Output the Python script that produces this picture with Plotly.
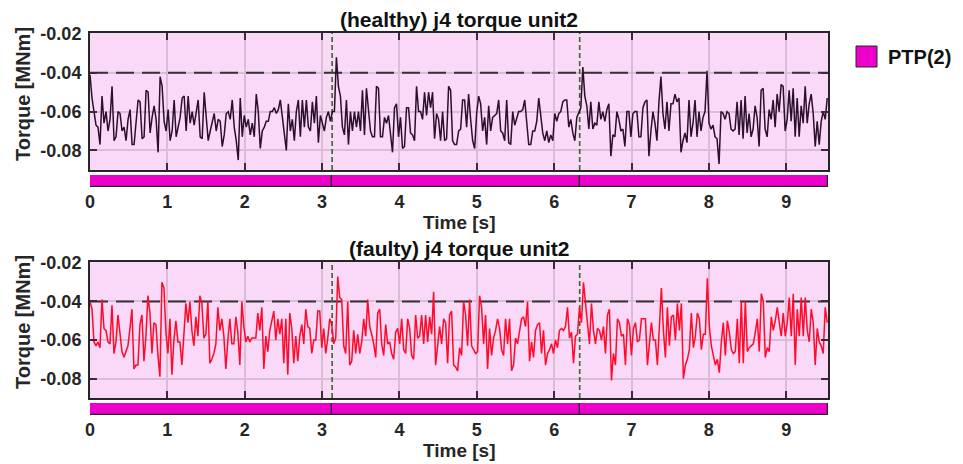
import numpy as np
import plotly.graph_objects as go

# ---------------- data (torque in 1e-3 MNm) ----------------
healthy_milli = [
    # 0 .. ~3.17 s
    -41,-53,-60,-67,-68,-77,-52,-66,-60,-70,-64,-47,-75,-73,-60,-61,-70,-68,-75,-64,
    -59,-77,-77,-67,-54,-55,-74,-73,-49,-50,-71,-63,-57,-64,-81,-42,-47,-65,-70,-59,
    -75,-70,-54,-73,-67,-63,-53,-52,-70,-52,-66,-60,-67,-61,-54,-73,-74,-50,-65,-75,
    -70,-66,-61,-70,-64,-65,-78,-72,-61,-60,-64,-54,-68,-75,-85,-53,-73,-62,-68,-64,
    -72,-66,-73,-51,-60,-79,-70,-68,-65,-65,-60,-60,-58,-61,-59,-54,-62,-70,-80,-56,
    -70,-64,-75,-60,-54,-73,-54,-68,-54,-68,-70,-55,-66,-52,-76,-62,-66,-70,-63,-60,
    -65,-60,-60,
    # ~3.2 .. ~6.35 s
    -32,-47,-52,-68,-72,-54,-77,-60,-70,-60,-68,-60,-70,-49,-72,-48,-61,-70,-73,-73,
    -47,-48,-73,-73,-63,-66,-62,-73,-81,-58,-56,-73,-63,-79,-78,-58,-58,-71,-72,-75,
    -47,-60,-60,-64,-50,-62,-50,-58,-50,-74,-61,-64,-75,-60,-75,-74,-47,-49,-75,-77,
    -77,-70,-69,-54,-54,-68,-51,-64,-75,-79,-61,-52,-56,-70,-63,-77,-57,-70,-63,-62,
    -61,-54,-70,-71,-75,-54,-76,-77,-60,-67,-63,-60,-60,-59,-54,-66,-77,-77,-70,-70,
    -65,-53,-61,-71,-75,-70,-76,-72,-75,-61,-65,-61,-60,-55,-54,-54,-68,-64,-71,-75,
    -63,-60,-58,
    # ~6.38 .. end
    -37,-52,-57,-69,-55,-69,-66,-67,-55,-64,-60,-65,-59,-56,-83,-72,-73,-60,-64,-70,
    -69,-78,-60,-60,-73,-61,-60,-60,-73,-73,-58,-55,-54,-83,-70,-60,-66,-75,-55,-42,
    -61,-69,-55,-70,-56,-56,-51,-55,-53,-81,-75,-71,-76,-54,-73,-66,-54,-73,-60,-70,
    -63,-60,-39,-66,-69,-67,-73,-74,-87,-60,-61,-64,-60,-61,-69,-70,-69,-55,-72,-54,
    -74,-52,-71,-61,-73,-69,-57,-63,-78,-49,-48,-69,-73,-59,-64,-54,-68,-51,-60,-46,
    -47,-70,-64,-49,-65,-48,-73,-53,-73,-57,-66,-47,-66,-56,-51,-61,-78,-65,-77,-65,
    -60,-64,-53,
]

faulty_milli = [
    -40,-44,-61,-63,-61,-64,-39,-54,-55,-61,-62,-42,-67,-61,-47,-55,-66,-69,-66,-63,
    -54,-44,-75,-73,-73,-52,-47,-71,-58,-37,-46,-67,-51,-52,-68,-79,-30,-33,-56,-67,
    -49,-78,-60,-50,-61,-61,-73,-56,-41,-51,-40,-55,-63,-48,-58,-37,-41,-59,-57,-40,
    -72,-70,-67,-62,-43,-55,-49,-58,-75,-60,-49,-62,-62,-48,-56,-73,-40,-53,-61,-58,
    -61,-59,-59,-59,-46,-55,-43,-75,-58,-66,-55,-49,-45,-60,-49,-57,-49,-72,-49,-78,
    -46,-54,-72,-58,-71,-58,-52,-62,-44,-53,-54,-67,-60,-60,-45,-45,-64,-54,-67,-59,
    -49,-52,-62,-59,
    -27,-38,-39,-63,-67,-40,-73,-71,-55,-67,-57,-67,-61,-49,-58,-39,-53,-57,-62,-69,
    -46,-44,-62,-68,-52,-62,-61,-67,-70,-56,-54,-62,-49,-65,-67,-49,-54,-68,-70,-47,
    -59,-58,-47,-62,-47,-61,-48,-57,-35,-73,-61,-53,-62,-49,-51,-72,-47,-45,-73,-74,
    -76,-64,-68,-40,-47,-63,-39,-63,-65,-67,-66,-37,-43,-62,-47,-75,-54,-68,-59,-55,
    -49,-54,-65,-68,-49,-62,-49,-76,-73,-59,-62,-54,-49,-48,-53,-40,-71,-61,-69,-55,
    -52,-51,-67,-55,-73,-67,-65,-62,-67,-60,-64,-55,-54,-55,-53,-43,-59,-56,-72,-58,
    -57,-43,-51,
    -30,-41,-48,-62,-41,-55,-62,-54,-55,-60,-53,-67,-47,-44,-81,-67,-73,-49,-51,-58,
    -57,-73,-49,-52,-68,-54,-51,-61,-60,-49,-49,-49,-73,-60,-51,-60,-60,-73,-51,-33,
    -55,-69,-43,-63,-48,-47,-60,-41,-55,-41,-80,-73,-70,-65,-46,-64,-58,-46,-49,-65,
    -57,-57,-28,-53,-63,-69,-73,-70,-77,-61,-51,-68,-50,-56,-65,-67,-66,-49,-72,-40,
    -72,-40,-66,-64,-63,-62,-56,-49,-66,-36,-40,-69,-64,-66,-48,-55,-50,-43,-51,-58,
    -46,-58,-51,-38,-58,-36,-73,-44,-58,-38,-58,-38,-55,-61,-44,-51,-73,-54,-61,-63,
    -67,-43,-51,
]

T_END = 9.53           # last sample time [s]
X_MAX = 9.54           # axis limit [s]
THRESHOLD = -0.04      # dashed limit line [MNm]
BOUNDARIES = [3.13, 6.33]                 # segment changes [s]
SEG_START = [0.0, 3.13, 6.33]
SEG_END = [3.13, 6.33, 9.54]
SEG_NAME = "PTP(2)"
X_TICKS = list(range(10))
Y_TICKS = [-0.08, -0.06, -0.04, -0.02]
Y_TICKTEXT = ["-0.08", "-0.06", "-0.04", "-0.02"]
TITLES = ["(healthy) j4 torque unit2", "(faulty) j4 torque unit2"]

healthy = np.array(healthy_milli) / 1000.0
faulty = np.array(faulty_milli) / 1000.0
t_h = np.linspace(0, T_END, len(healthy))
t_f = np.linspace(0, T_END, len(faulty))

# ---------------- styling ----------------
# the page body has an 8px margin, so the figure is 8px smaller and offset
OFF = 8
W, H = 963 - OFF, 464 - OFF
BG = "#FAD8F7"
GRID = "#D9BCD6"
FRAME = "#262626"
MAGENTA = "#EE00CC"
TXT = "#262626"
FONT = "Liberation Sans, Arial, Helvetica, sans-serif"

def px_x(p):
    return (p - OFF) / W

def px_y(p):
    return 1 - (p - OFF) / H

X_DOM = [px_x(90), px_x(828)]
panels = [
    dict(main=(33, 170), bar=(175, 187), title_y=19, ylab_y=94, xlab_y=222,
         series=(t_h, healthy), color="#2B0F2B", title=TITLES[0]),
    dict(main=(262, 398), bar=(403, 415), title_y=248, ylab_y=322, xlab_y=450,
         series=(t_f, faulty), color="#FF0A2A", title=TITLES[1]),
]

fig = go.Figure()
annotations = []
shapes = []
layout_axes = {}

for i, p in enumerate(panels):
    n_main = 2 * i + 1
    n_bar = 2 * i + 2
    xm = "x" if n_main == 1 else f"x{n_main}"
    ym = "y" if n_main == 1 else f"y{n_main}"
    xb = f"x{n_bar}"
    yb = f"y{n_bar}"

    t, v = p["series"]
    # threshold line
    fig.add_trace(go.Scatter(x=[0, X_MAX], y=[THRESHOLD, THRESHOLD], mode="lines",
                             line=dict(color="#333333", width=2, dash="18px,8px"),
                             xaxis=xm, yaxis=ym, showlegend=False, hoverinfo="skip"))
    # boundaries
    for b in BOUNDARIES:
        fig.add_trace(go.Scatter(x=[b, b], y=[-0.0901, -0.0195], mode="lines",
                                 line=dict(color="#2E6B22", width=1.6, dash="5px,3px"),
                                 xaxis=xm, yaxis=ym, showlegend=False, hoverinfo="skip"))
    # signal
    fig.add_trace(go.Scatter(x=t, y=v, mode="lines",
                             line=dict(color=p["color"], width=1.5),
                             xaxis=xm, yaxis=ym, showlegend=False))
    # segment bar
    fig.add_trace(go.Bar(y=[0] * len(SEG_START), x=[e - s for s, e in zip(SEG_START, SEG_END)],
                         base=SEG_START, orientation="h", width=1,
                         marker=dict(color=MAGENTA, line=dict(color=FRAME, width=1.2)),
                         xaxis=xb, yaxis=yb, showlegend=False, name=SEG_NAME))

    y0, y1 = p["main"]
    b0, b1 = p["bar"]
    key_xm = "xaxis" if n_main == 1 else f"xaxis{n_main}"
    key_ym = "yaxis" if n_main == 1 else f"yaxis{n_main}"
    layout_axes[key_xm] = dict(domain=X_DOM, range=[0, X_MAX], anchor=ym, automargin=False,
                               tickvals=X_TICKS, showticklabels=False,
                               ticks="inside", ticklen=7, tickwidth=2, tickcolor="#3A2A3A",
                               showline=True, linecolor=FRAME, linewidth=2, mirror="allticks",
                               showgrid=True, gridcolor=GRID, gridwidth=1.5, zeroline=False)
    layout_axes[key_ym] = dict(domain=[px_y(y1), px_y(y0)], range=[-0.0901, -0.0195], anchor=xm,
                               automargin=False,
                               tickvals=Y_TICKS, ticktext=Y_TICKTEXT,
                               ticks="inside", ticklen=7, tickwidth=2, tickcolor="#3A2A3A",
                               showline=True, linecolor=FRAME, linewidth=2, mirror="allticks",
                               showgrid=True, gridcolor=GRID, gridwidth=1.5, zeroline=False,
                               tickfont=dict(family=FONT, size=18, color=TXT, weight="bold"),
                               ticklabelstandoff=3)
    layout_axes[f"xaxis{n_bar}"] = dict(domain=X_DOM, range=[0, X_MAX], anchor=yb, automargin=False,
                                        tickvals=X_TICKS, ticktext=[str(k) for k in X_TICKS],
                                        showline=False, showgrid=False, zeroline=False, ticks="",
                                        tickfont=dict(family=FONT, size=18, color=TXT, weight="bold"),
                                        ticklabelstandoff=2)
    layout_axes[f"yaxis{n_bar}"] = dict(domain=[px_y(b1), px_y(b0)], range=[-0.5, 0.5], anchor=xb,
                                        automargin=False, visible=False)
    # plot background
    shapes.append(dict(type="rect", xref="paper", yref="paper", layer="below",
                       x0=X_DOM[0], x1=X_DOM[1], y0=px_y(y1), y1=px_y(y0),
                       fillcolor=BG, line=dict(width=0)))
    annotations.append(dict(text=p["title"], xref="paper", yref="paper",
                            x=px_x(459), y=px_y(p["title_y"]), showarrow=False,
                            xanchor="center", yanchor="middle",
                            font=dict(family=FONT, size=21, color="#111111", weight="bold")))
    annotations.append(dict(text="Torque [MNm]", xref="paper", yref="paper",
                            x=px_x(23), y=px_y(p["ylab_y"]), showarrow=False, textangle=-90,
                            xanchor="center", yanchor="middle",
                            font=dict(family=FONT, size=20, color=TXT, weight="bold")))
    annotations.append(dict(text="Time [s]", xref="paper", yref="paper",
                            x=px_x(459), y=px_y(p["xlab_y"]), showarrow=False,
                            xanchor="center", yanchor="middle",
                            font=dict(family=FONT, size=19, color=TXT, weight="bold")))

# legend
shapes.append(dict(type="rect", xref="paper", yref="paper",
                   x0=px_x(856), x1=px_x(877), y0=px_y(67), y1=px_y(46),
                   fillcolor=MAGENTA, line=dict(color=FRAME, width=1)))
annotations.append(dict(text=SEG_NAME, xref="paper", yref="paper",
                        x=px_x(886), y=px_y(57), showarrow=False,
                        xanchor="left", yanchor="middle",
                        font=dict(family=FONT, size=20, color="#111111", weight="bold")))

fig.update_layout(width=W, height=H, margin=dict(l=0, r=0, t=0, b=0, autoexpand=False),
                  paper_bgcolor="white", plot_bgcolor="rgba(0,0,0,0)",
                  shapes=shapes, annotations=annotations, showlegend=False,
                  bargap=0, **layout_axes)

fig.write_html("out.html")
